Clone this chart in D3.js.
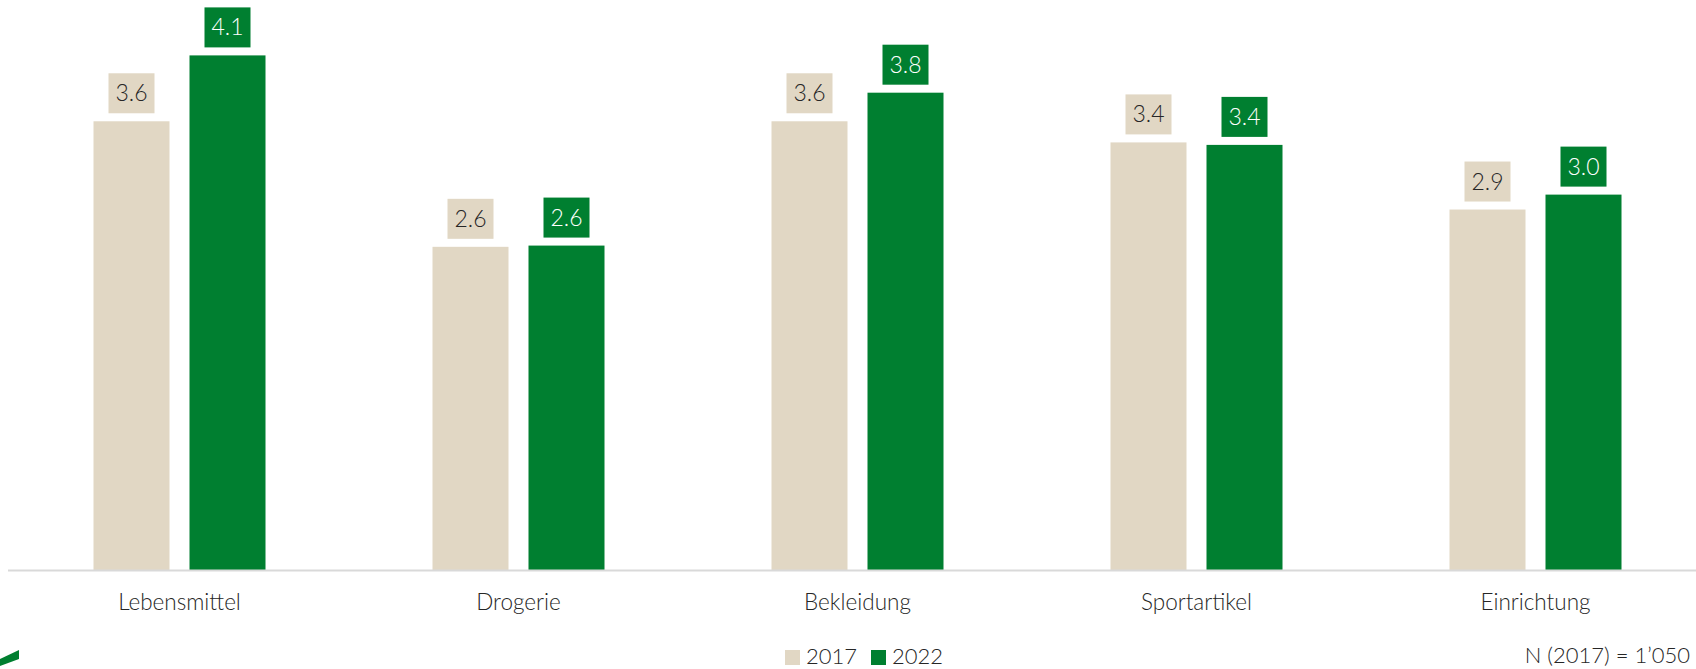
<!DOCTYPE html>
<html><head><meta charset="utf-8">
<script src="https://cdn.jsdelivr.net/npm/d3@7"></script>
<style>
html,body{margin:0;padding:0;background:#fff;overflow:hidden;}
text{font-family:Lato,"Open Sans",sans-serif;}
</style></head>
<body>
<svg id="c" width="1696" height="669"></svg>
<script>
const categories = ["Lebensmittel","Drogerie","Bekleidung","Sportartikel","Einrichtung"];
const seriesNames = ["2017","2022"];
const values2017 = [3.61, 2.60, 3.61, 3.44, 2.90];
const values2022 = [4.14, 2.61, 3.84, 3.42, 3.02];
const colors = ["#e1d7c4", "#007f30"];
const labelColors = ["#262626", "#ffffff"];
const footnote = "N (2017) = 1\u2019050";

const svg = d3.select("#c");
const baseY = 570;
const x = d3.scaleBand().domain(categories).range([10, 1705]).paddingInner(0).paddingOuter(0);
const xs = d3.scaleBand().domain(seriesNames).range([-86, 86]).paddingInner(20 / 96).paddingOuter(0);
const y = d3.scaleLinear().domain([0, 4.5]).range([baseY, baseY - 124.3 * 4.5]);

const data = [];
categories.forEach((c, i) => {
  data.push({cat: c, s: "2017", v: values2017[i], k: 0});
  data.push({cat: c, s: "2022", v: values2022[i], k: 1});
});

const cx = d => x(d.cat) + x.bandwidth() / 2 + xs(d.s);
const bw = xs.bandwidth();

svg.selectAll("rect.bar").data(data).join("rect")
  .attr("class", "bar")
  .attr("x", d => cx(d))
  .attr("width", bw)
  .attr("y", d => y(d.v))
  .attr("height", d => baseY - y(d.v))
  .attr("fill", d => colors[d.k]);

// axis line
svg.append("line").attr("x1", 8).attr("x2", 1696).attr("y1", baseY + 0.5).attr("y2", baseY + 0.5)
  .attr("stroke", "#d9d9d9").attr("stroke-width", 2);

// value label boxes
const fmt = d3.format(".1f");
const lg = svg.selectAll("g.lab").data(data).join("g").attr("class", "lab")
  .attr("transform", d => `translate(${cx(d) + bw / 2},${y(d.v) - 8})`);
lg.append("rect").attr("x", -23).attr("y", -40).attr("width", 46).attr("height", 40)
  .attr("fill", d => colors[d.k]);
lg.append("text").attr("x", 0).attr("y", -12).attr("text-anchor", "middle")
  .attr("font-size", 23).attr("font-weight", 300)
  .attr("fill", d => labelColors[d.k]).text(d => fmt(d.v));

// category labels
svg.selectAll("text.cat").data(categories).join("text").attr("class", "cat")
  .attr("x", d => x(d) + x.bandwidth() / 2).attr("y", 610)
  .attr("text-anchor", "middle").attr("font-size", 22.5).attr("font-weight", 300)
  .attr("fill", "#262626").text(d => d);

// legend
const legX = [785, 871];
const leg = svg.selectAll("g.leg").data(seriesNames).join("g").attr("class", "leg")
  .attr("transform", (d, i) => `translate(${legX[i]},0)`);
leg.append("rect").attr("x", 0).attr("y", 650).attr("width", 15).attr("height", 15)
  .attr("fill", (d, i) => colors[i]);
leg.append("text").attr("x", 21).attr("y", 664).attr("font-size", 22).attr("font-weight", 300)
  .attr("fill", "#262626").text(d => d);

// footnote
svg.append("text").attr("x", 1690).attr("y", 663).attr("text-anchor", "end")
  .attr("font-size", 22).attr("font-weight", 300)
  .attr("fill", "#262626").text(footnote);

// logo fragment
svg.append("path").attr("d", "M0,659 L19,650 L19,659 L0,666 Z").attr("fill", "#007f30");
</script>
</body></html>
